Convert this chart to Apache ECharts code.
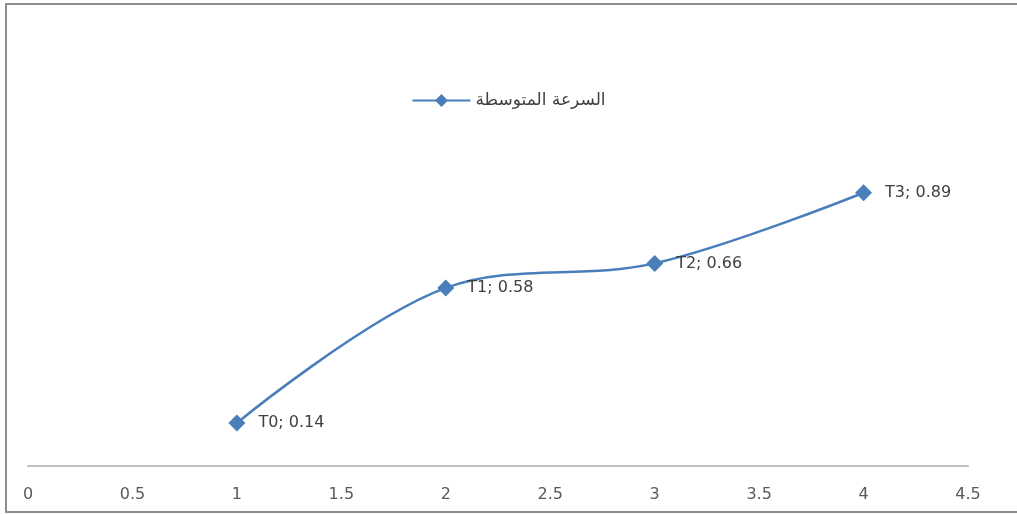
<!DOCTYPE html>
<html>
<head>
<meta charset="utf-8">
<script src="https://cdn.jsdelivr.net/npm/echarts@6/dist/echarts.min.js"></script>
<style>
  html, body { margin: 0; padding: 0; background: #fff; overflow: hidden; }
  #chart { position: absolute; left: 0; top: 0; width: 1017px; height: 514px; }
  #frame { position: absolute; left: 5px; top: 3px; width: 1030px; height: 506px;
           border: 2px solid #8e8e8e; pointer-events: none; }
</style>
</head>
<body>
<div id="chart"></div>
<div id="frame"></div>
<script>
// Average speed at each measurement point
const seriesName = 'السرعة المتوسطة';
const pointNames = ['T0', 'T1', 'T2', 'T3'];
const xValues = [1, 2, 3, 4];
const speeds = [0.14, 0.58, 0.66, 0.89];

const chart = echarts.init(document.getElementById('chart'));

chart.setOption({
  animation: false,
  backgroundColor: '#fff',
  legend: {
    data: [seriesName],
    top: 87,
    left: 'center',
    itemWidth: 58,
    itemHeight: 16,
    itemGap: 6,
    textStyle: { fontFamily: 'DejaVu Sans', fontSize: 17, color: '#404040' }
  },
  grid: { left: 28, right: 49, top: 159, bottom: 48 },
  xAxis: {
    type: 'value',
    min: 0,
    max: 4.5,
    interval: 0.5,
    axisLine: { show: true, lineStyle: { color: '#bfbfbf', width: 2 } },
    axisTick: { show: false },
    splitLine: { show: false },
    axisLabel: {
      margin: 21,
      color: '#595959',
      fontFamily: 'DejaVu Sans',
      fontSize: 16,
      formatter: v => String(v)
    }
  },
  yAxis: {
    type: 'value',
    min: 0,
    max: 1,
    show: false,
    splitLine: { show: false }
  },
  series: [{
    name: seriesName,
    type: 'line',
    smooth: 0.35,
    data: xValues.map((x, i) => ({ value: [x, speeds[i]], name: pointNames[i] })),
    symbol: 'diamond',
    symbolSize: 17,
    itemStyle: { color: '#4a7ebb' },
    lineStyle: { color: '#4a7ebb', width: 2.5 },
    label: {
      show: true,
      position: 'right',
      distance: 13,
      color: '#404040',
      fontFamily: 'DejaVu Sans',
      fontSize: 16,
      formatter: p => p.name + '; ' + p.value[1]
    }
  }]
});
</script>
</body>
</html>
